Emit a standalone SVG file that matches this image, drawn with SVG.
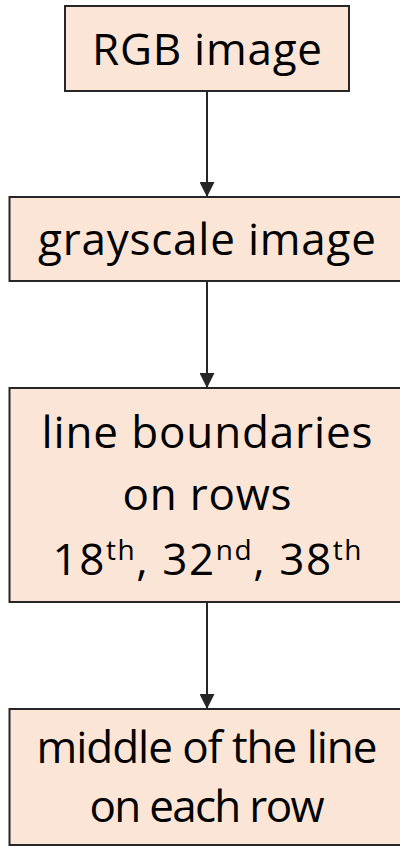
<svg xmlns="http://www.w3.org/2000/svg" width="400" height="846" viewBox="0 0 400 846">
  <style>
    .box { fill: #FBE5D6; stroke: #262626; stroke-width: 2; }
    .lbl { font-family: "Open Sans", "Noto Sans", "Liberation Sans", sans-serif; font-size: 44px; fill: #000; text-anchor: middle; }
    .sup { font-size: 28px; }
    .edge { stroke: #262626; stroke-width: 2; fill: none; marker-end: url(#head); }
  </style>
  <defs>
    <marker id="head" markerWidth="15" markerHeight="15" refX="15" refY="7.5" orient="auto" markerUnits="userSpaceOnUse">
      <path d="M0,0 L15,7.5 L0,15 Z" fill="#262626"/>
    </marker>
  </defs>
  <rect width="400" height="846" fill="#ffffff"/>

  <g id="connectors">
    <line class="edge" x1="207" y1="91" x2="207" y2="197"/>
    <line class="edge" x1="207" y1="281" x2="207" y2="388"/>
    <line class="edge" x1="207" y1="602" x2="207" y2="709"/>
  </g>

  <g id="rgb">
    <rect class="box" x="65" y="6" width="284" height="85"/>
    <text class="lbl" x="207" y="65" textLength="230">RGB image</text>
  </g>

  <g id="gray">
    <rect class="box" x="9.5" y="197" width="396" height="84"/>
    <text class="lbl" x="207" y="255" textLength="338">grayscale image</text>
  </g>

  <g id="bounds">
    <rect class="box" x="9.5" y="388" width="396" height="214"/>
    <text class="lbl" x="207" y="448" textLength="331">line boundaries</text>
    <text class="lbl" x="207" y="510" textLength="169">on rows</text>
    <text class="lbl" x="207" y="575" textLength="309">18<tspan class="sup" dy="-15">th</tspan><tspan dy="15">, 32</tspan><tspan class="sup" dy="-15">nd</tspan><tspan dy="15">, 38</tspan><tspan class="sup" dy="-15">th</tspan></text>
  </g>

  <g id="middle">
    <rect class="box" x="9.5" y="709" width="396" height="136"/>
    <text class="lbl" x="207" y="763" textLength="341">middle of the line</text>
    <text class="lbl" x="207" y="822" textLength="235">on each row</text>
  </g>
</svg>
